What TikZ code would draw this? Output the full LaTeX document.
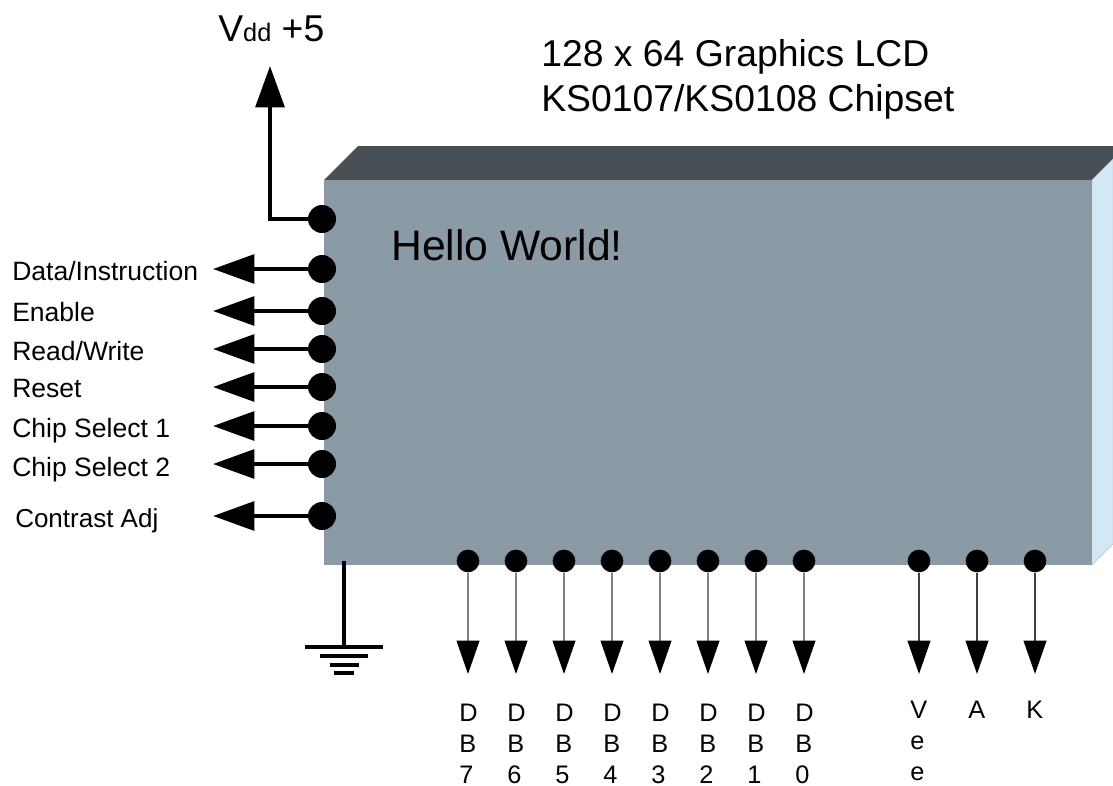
\documentclass[tikz,border=0pt]{standalone}
\usepackage{fontspec}
\setmainfont{Liberation Sans}
\usetikzlibrary{arrows.meta,calc,positioning}
\definecolor{lcdfront}{HTML}{8A9BA5}
\definecolor{lcdtop}{HTML}{484F55}
\definecolor{lcdside}{HTML}{D2E8F7}
\tikzset{
 bigpin/.style={circle,fill=black,inner sep=0pt,minimum size=21pt},
 smallpin/.style={circle,fill=black,inner sep=0pt,minimum size=17pt},
 wirel/.style={line width=3pt,-{Triangle[length=31pt,width=21.5pt]}},
 wired/.style={line width=1.5pt,-{Triangle[length=25pt,width=17pt,black]}},
 pinlabel/.style={anchor=base west,inner sep=0pt,font=\fontsize{19.9}{23}\selectfont},
 buslabel/.style={anchor=north west,inner sep=0pt,align=left,font=\fontsize{19}{23.1}\selectfont},
 title/.style={anchor=base west,inner sep=0pt,align=left,font=\fontsize{28}{33.75}\selectfont}
}
\begin{document}
\begin{tikzpicture}[x=0.75pt,y=-0.75pt]
\useasboundingbox (0,0) rectangle (1113,785);

% LCD body
\fill[lcdtop] (324,180) -- (358,146) -- (1113,146) -- (1113,159) -- (1092,180) -- cycle;
\filldraw[fill=lcdside,draw=black!25,line width=0.3pt] (1092,180) -- (1113,159) -- (1113,544) -- (1092,565) -- cycle;
\fill[lcdfront] (324,180) rectangle (1092,564.5);

% Titles
\node[title] (titleLcd) at (541,111) {128 x 64 Graphics LCD\\KS0107/KS0108 Chipset};
\node[title,font=\fontsize{32}{38}\selectfont] (hello) at (391,260) {Hello World!};
\node[title] (vdd) at (218,41) {V{\fontsize{19}{24}\selectfont dd} +5};

% Supply pin
\node[bigpin] (pinVdd) at (322,219) {};
\coordinate (endVdd) at (270,66);
\draw[wirel] (pinVdd) -| (endVdd);

% Left side pins
\foreach \y/\by/\lx/\name/\txt in {269/280/12/DI/Data\slash Instruction,311/321/12/EN/Enable,349/360/12/RW/Read\slash Write,387/397/12/RST/Reset,426/437/12/CSA/Chip Select 1,464/476/12/CSB/Chip Select 2,516/527/15/ADJ/{\fontsize{19.5}{23}\selectfont Contrast Adj}} {
 \node[bigpin] (pin\name) at (322,\y) {};
 \coordinate (end\name) at (213,\y);
 \draw[wirel] (pin\name) -- (end\name);
 \node[pinlabel] (lbl\name) at (\lx,\by) {\txt};
}

% Data bus
\foreach \x/\n in {468/7,516/6,564/5,612/4,660/3,708/2,756/1,804/0} {
 \node[smallpin] (pinDB\n) at (\x,561) {};
 \coordinate (endDB\n) at (\x,674);
 \draw[wired,draw=black!50] (pinDB\n) -- (endDB\n);
 \node[buslabel] (lblDB\n) at ($(\x,704)+(-9,0)$) {D\\B\\\n};
}

% Contrast and backlight
\foreach \x/\name/\txt in {919/Vee/V\\e\\e,977/A/A,1035/K/K} {
 \node[smallpin] (pin\name) at (\x,561) {};
 \coordinate (end\name) at (\x,674);
 \draw[wired,draw=black!75] (pin\name) -- (end\name);
 \node[buslabel] (lbl\name) at ($(\x,701)+(-9,0)$) {\txt};
}

% Ground
\coordinate (gndTop) at (344,561);
\coordinate (gndBar) at (344,647);
\draw[line width=3pt] (gndTop) -- (gndBar);
\foreach \y/\w in {647/39,655.5/24,665/14.5,673/10} {
 \draw[line width=3pt] (344-\w,\y) -- (344+\w,\y);
}
\end{tikzpicture}
\end{document}
